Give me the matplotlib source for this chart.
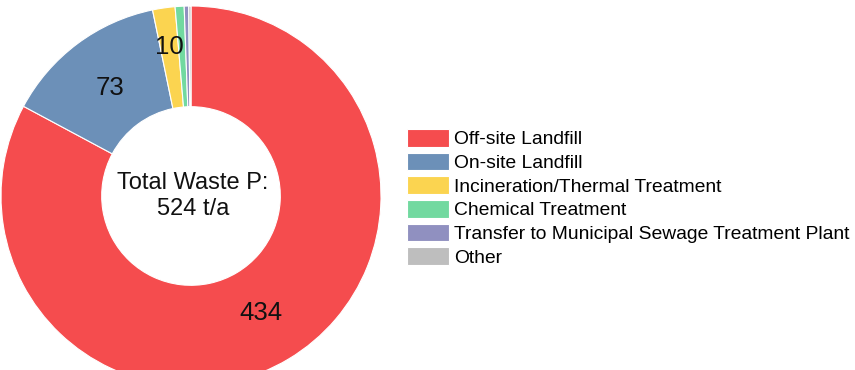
import matplotlib
matplotlib.use("Agg")
import matplotlib.pyplot as plt
import numpy as np

plt.rcParams['font.family'] = ['Liberation Sans', 'DejaVu Sans']

# waste phosphorus by treatment route (t/a)
categories = ["Off-site Landfill", "On-site Landfill", "Incineration/Thermal Treatment",
              "Chemical Treatment", "Transfer to Municipal Sewage Treatment Plant", "Other"]
values = [434, 73, 10, 4, 2, 1]
shown_labels = ["434", "73", "10", "", "", ""]
colors = ["#F54C4E", "#6C90B8", "#FBD450", "#72D9A0", "#9090C0", "#BEBEBE"]

total = sum(values)

fig = plt.figure(figsize=(8.55, 3.7), dpi=100)
ax = fig.add_axes([1 / 855, -16 / 370, 380 / 855, 380 / 370])

wedges, _ = ax.pie(values, colors=colors, startangle=90, counterclock=False,
                   wedgeprops=dict(width=0.53, edgecolor="white", linewidth=0.8))
ax.set_xlim(-1, 1)
ax.set_ylim(-1, 1)
ax.set_aspect("equal")

# value labels at the wedge middle angle
label_r = [0.72, 0.71, 0.79]
for i, w in enumerate(wedges[:3]):
    mid = np.deg2rad((w.theta1 + w.theta2) / 2)
    ax.text(label_r[i] * np.cos(mid), label_r[i] * np.sin(mid), shown_labels[i],
            ha="center", va="center", fontsize=18.5, color="#111111")

ax.text(0.01, 0.0, "Total Waste P:\n%d t/a" % total, ha="center", va="center",
        fontsize=17, linespacing=1.25, color="#111111")

fig.legend(wedges, categories, loc="upper left", bbox_to_anchor=(407 / 855, 1 - 129 / 370),
           frameon=False, fontsize=13.9, handlelength=2.15, handleheight=1.03,
           handletextpad=0.3, labelspacing=0.22, borderpad=0, borderaxespad=0)

fig.savefig("out.png", dpi=100)
